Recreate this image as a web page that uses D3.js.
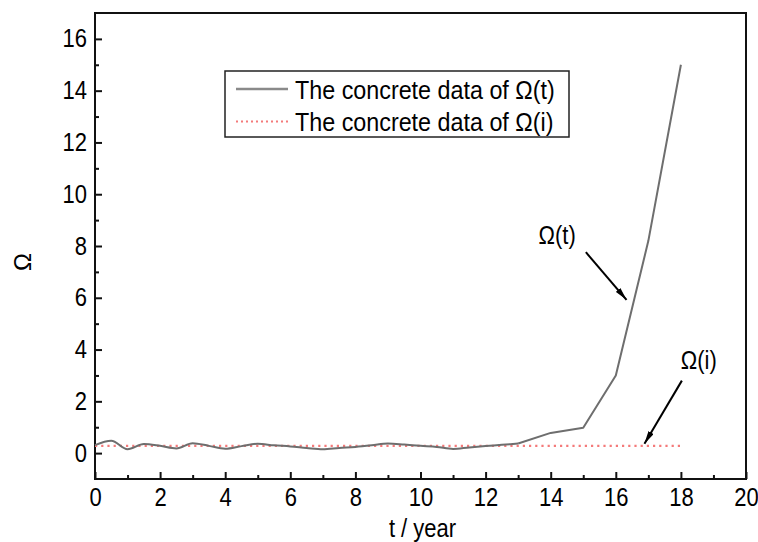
<!DOCTYPE html>
<html>
<head>
<meta charset="utf-8">
<script src="https://cdn.jsdelivr.net/npm/d3@7"></script>
<style>
  body { margin: 0; background: #fff; }
  text { font-family: "Liberation Sans", Arial, sans-serif; fill: #000; }
</style>
</head>
<body>
<div class="canvas"></div>
<script>
// data
const years = [0, 0.5, 1, 1.5, 2, 2.5, 3, 3.5, 4, 4.5, 5, 5.5, 6, 6.5, 7, 7.5, 8, 8.5, 9, 9.5, 10, 10.5, 11, 11.5, 12, 12.5, 13, 14, 15, 16, 17, 18]
const omegaT = [0.31, 0.48, 0.15, 0.35, 0.28, 0.18, 0.38, 0.28, 0.17, 0.27, 0.36, 0.30, 0.26, 0.20, 0.15, 0.20, 0.24, 0.30, 0.37, 0.33, 0.28, 0.24, 0.16, 0.22, 0.27, 0.32, 0.37, 0.78, 0.98, 3.0, 8.2, 15.0]
const omegaIYears = [0, 18]
const omegaI = [0.28, 0.28]
const xTicks = [0, 2, 4, 6, 8, 10, 12, 14, 16, 18, 20]
const yTicks = [0, 2, 4, 6, 8, 10, 12, 14, 16]
const legendLabels = ['The concrete data of Ω(t)', 'The concrete data of Ω(i)']

const width = 758
const height = 542
const margin = { top: 13, right: 12, bottom: 63, left: 95 }
const graphWidth = width - margin.left - margin.right
const graphHeight = height - margin.top - margin.bottom

// the original type is a bit narrow, squeeze it sideways
const squeeze = 0.88

const svg = d3.select('.canvas').append('svg')
  .attr('width', width)
  .attr('height', height)

const defs = svg.append('defs')
defs.append('marker')
  .attr('id', 'arrow')
  .attr('viewBox', '0 0 13 6')
  .attr('refX', 13)
  .attr('refY', 3)
  .attr('markerWidth', 13)
  .attr('markerHeight', 6)
  .attr('markerUnits', 'userSpaceOnUse')
  .attr('orient', 'auto')
  .append('path')
  .attr('d', 'M0,0 L13,3 L0,6 Z')
  .attr('fill', '#000')

const graph = svg.append('g')
  .attr('transform', `translate(${margin.left}, ${margin.top})`)

const x = d3.scaleLinear().domain([0, 20]).range([0, graphWidth])
const y = d3.scaleLinear().domain([-1, 17]).range([graphHeight, 0])

// axes with inward ticks
const xAxis = d3.axisBottom(x).tickValues(xTicks).tickSize(-7).tickPadding(9).tickFormat(d3.format('d'))
const xMinor = d3.axisBottom(x).tickValues(d3.range(1, 20, 2)).tickSize(-4).tickFormat('')
const yAxis = d3.axisLeft(y).tickValues(yTicks).tickSize(-7).tickPadding(8).tickFormat(d3.format('d'))
const yMinor = d3.axisLeft(y).tickValues(d3.range(1, 17, 2)).tickSize(-4).tickFormat('')

const styleAxis = g => {
  g.select('.domain').remove()
  g.selectAll('line').attr('stroke', '#111').attr('stroke-width', 2)
  g.selectAll('text')
    .attr('font-size', 25)
    .style('font-family', '"Liberation Sans", Arial, sans-serif')
    .attr('fill', '#000')
    .each(function () {
      const t = d3.select(this)
      const tx = +t.attr('x') || 0
      t.attr('x', tx / squeeze).attr('transform', `scale(${squeeze},1)`)
    })
}

graph.append('g').attr('transform', `translate(0,${graphHeight})`).call(xAxis).call(styleAxis)
graph.append('g').attr('transform', `translate(0,${graphHeight})`).call(xMinor).call(styleAxis)
graph.append('g').call(yAxis).call(styleAxis)
graph.append('g').call(yMinor).call(styleAxis)

graph.append('rect')
  .attr('width', graphWidth)
  .attr('height', graphHeight)
  .attr('fill', 'none')
  .attr('stroke', '#111')
  .attr('stroke-width', 2)

// lines
const straight = d3.line().x(d => x(d[0])).y(d => y(d[1]))
const smooth = d3.line().x(d => x(d[0])).y(d => y(d[1])).curve(d3.curveMonotoneX)

graph.append('path')
  .datum(d3.zip(omegaIYears, omegaI))
  .attr('d', straight)
  .attr('fill', 'none')
  .attr('stroke', '#f47a7a')
  .attr('stroke-width', 2.2)
  .attr('stroke-dasharray', '2.2,4')

// the flat stretch wiggles smoothly, the rise is drawn with straight segments
const pts = d3.zip(years, omegaT)
const split = years.indexOf(13)
graph.append('path')
  .datum(pts.slice(0, split + 1))
  .attr('d', smooth)
  .attr('fill', 'none')
  .attr('stroke', '#6e6e6e')
  .attr('stroke-width', 2)
graph.append('path')
  .datum(pts.slice(split))
  .attr('d', straight)
  .attr('fill', 'none')
  .attr('stroke', '#6e6e6e')
  .attr('stroke-width', 2)
  .attr('stroke-linejoin', 'round')

// helper for squeezed text
const addText = (parent, px, py, str, size, anchor) => parent.append('text')
  .attr('transform', `translate(${px},${py}) scale(${squeeze},1)`)
  .attr('text-anchor', anchor)
  .attr('dominant-baseline', 'central')
  .attr('font-size', size)
  .text(str)

// annotations
const notes = [
  { label: 'Ω(t)', tx: 14.2, ty: 8.42, from: [15.08, 7.76], to: [16.33, 5.92] },
  { label: 'Ω(i)', tx: 18.55, ty: 3.58, from: [18.03, 2.8], to: [16.88, 0.36] }
]
notes.forEach(n => {
  addText(graph, x(n.tx), y(n.ty), n.label, 25, 'middle')
  graph.append('line')
    .attr('x1', x(n.from[0])).attr('y1', y(n.from[1]))
    .attr('x2', x(n.to[0])).attr('y2', y(n.to[1]))
    .attr('stroke', '#000')
    .attr('stroke-width', 2)
    .attr('marker-end', 'url(#arrow)')
})

// legend
const legend = svg.append('g').attr('transform', 'translate(225, 71)')
legend.append('rect')
  .attr('width', 344)
  .attr('height', 66)
  .attr('fill', '#fff')
  .attr('stroke', '#222')
  .attr('stroke-width', 1.5)

const legendStyles = [
  { stroke: '#8a8a8a', dash: null, width: 2.5 },
  { stroke: '#f47a7a', dash: '2,3', width: 2 }
]
legendLabels.forEach((label, i) => {
  const row = legend.append('g').attr('transform', `translate(0, ${18 + i * 32.5})`)
  row.append('line')
    .attr('x1', 11).attr('x2', 63)
    .attr('stroke', legendStyles[i].stroke)
    .attr('stroke-width', legendStyles[i].width)
    .attr('stroke-dasharray', legendStyles[i].dash)
  addText(row, 70, 0, label, 26.5, 'start')
})

// axis titles
addText(svg, margin.left + x(10) + 2, 529, 't / year', 25, 'middle')

svg.append('text')
  .attr('transform', 'translate(22, 262) rotate(-90)')
  .attr('text-anchor', 'middle')
  .attr('dominant-baseline', 'central')
  .attr('font-size', 24)
  .text('Ω')
</script>
</body>
</html>
